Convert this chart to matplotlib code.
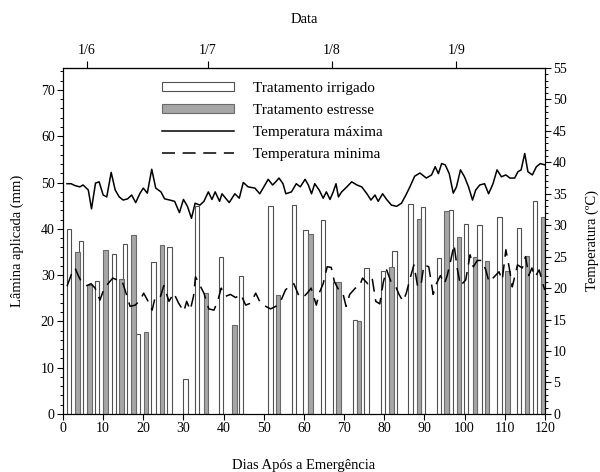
import matplotlib
matplotlib.use("Agg")
import matplotlib.pyplot as plt
from matplotlib.patches import Patch
from matplotlib.lines import Line2D
from matplotlib.ticker import MultipleLocator

plt.rcParams['font.family'] = ['Liberation Serif', 'DejaVu Serif']

# --- Data -------------------------------------------------------------
irrig_days = [1.5, 4.5, 8.5, 12.7, 15.5, 18.7, 22.5, 26.5, 30.5, 33.4, 39.3, 44.4,
              51.7, 57.6, 60.4, 64.7, 67.7, 72.7, 75.6, 79.7, 82.6, 86.6, 89.7,
              93.7, 96.6, 100.4, 103.7, 108.7, 113.6, 117.6]
irrig_mm = [40, 37.3, 28.7, 34.5, 36.7, 17.3, 32.8, 36, 7.6, 45, 34, 29.9,
            45, 45.2, 39.7, 41.8, 28.6, 20.3, 31.5, 30.8, 35.1, 45.3, 44.7,
            33.7, 44, 41.1, 40.9, 42.6, 40.1, 46.1]

stress_days = [3.6, 6.6, 10.6, 14.6, 17.6, 20.7, 24.6, 35.6, 42.7, 53.6, 61.6,
               68.6, 73.7, 81.8, 88.6, 95.5, 98.7, 102.6, 105.6, 110.7, 115.5, 119.6]
stress_mm = [35, 27.8, 35.5, 29.2, 38.7, 17.8, 36.5, 26.1, 19.3, 25.6, 38.9,
             28.6, 20.1, 31.8, 42.2, 43.9, 38.2, 33.9, 33.1, 30.8, 34.2, 42.6]

tmax_days = [1, 2, 3, 4.2, 5, 6.3, 7.1, 8.1, 9, 10, 10.9, 12, 13, 14, 15, 16.1, 17.1,
             18.1, 19.2, 20, 21, 22.1, 23.1, 24.4, 25.3, 26.6, 27.8, 29, 30, 31, 32,
             32.9, 34.1, 35.1, 36.2, 37.1, 37.9, 39, 39.6, 41.4, 42.8, 43.9, 44.9,
             46.1, 47.8, 49, 50.3, 51.1, 52.2, 53, 53.8, 54.8, 55.5, 56.9, 58.1,
             59.1, 60.3, 61.1, 61.9, 62.7, 63.8, 64.8, 65.6, 66.5, 67.3, 68, 68.6,
             69.4, 70.7, 71.9, 73.2, 74.4, 75.7, 76.7, 77.7, 78.5, 79.6, 80.6, 81.8,
             83.1, 84.3, 85.4, 86.4, 87.6, 88.9, 90.5, 91.8, 92.7, 93.5, 94.3, 95.2,
             96.2, 97.2, 98, 99, 100, 101, 102, 102.8, 103.8, 105, 106, 107.1, 108.1,
             109.2, 110.3, 111.3, 112.5, 113.3, 114.1, 115, 115.8, 116.9, 117.9,
             118.9, 120]
tmax_c = [36.6, 36.6, 36.3, 36.1, 36.4, 35.6, 32.6, 36.7, 36.9, 34.8, 34.5, 38.4,
          35.6, 34.5, 34, 34.2, 34.8, 33.6, 35.1, 35.9, 35.1, 38.9, 35.9, 35.3,
          34.2, 34, 33.8, 32, 34.1, 33, 31.1, 33.5, 33.2, 33.8, 35.3, 34.1, 35.3,
          33.8, 35, 33.6, 35, 34.3, 36.8, 36.1, 35.9, 35, 36.4, 37.3, 36.4, 36.9,
          37.5, 36.6, 35, 35.3, 36.6, 36.1, 37.3, 36.4, 35, 36.6, 35.6, 34.3, 35.3,
          34.1, 35.3, 36.6, 34.5, 35.3, 36.1, 36.9, 36.4, 36.1, 35, 34, 34.8, 33.8,
          35, 34.1, 33.2, 33, 33.5, 34.8, 36.1, 37.8, 38.3, 37.5, 38, 39.3, 38.2,
          39.8, 39.6, 38.2, 35.1, 36.1, 38.8, 37.7, 36.1, 34, 35.6, 36.4, 36.6, 35,
          36.6, 38.8, 37.7, 38, 37.5, 37.5, 38.5, 38.8, 41.4, 38.5, 38, 39.3, 39.8,
          39.6]

tmin_days = [1, 2.2, 3, 3.8, 4.6, 5.9, 7, 8, 9.2, 10.1, 11.2, 12.4, 13.5, 14.7, 15.7,
             16.7, 18, 19.2, 20.1, 21.2, 22.2, 23, 24.3, 25.1, 26.4, 27.6, 28.8, 30.1,
             30.8, 31.7, 32.5, 33, 33.9, 35.1, 36.3, 37.6, 38.5, 39.4, 40.5, 41.7, 43,
             44.3, 45.5, 46.7, 48, 49.2, 50.5, 51.7, 53, 54.2, 55.4, 56.5, 57.5, 58.8,
             59.8, 60.8, 61.8, 63.1, 63.8, 64.8, 65.8, 66.8, 67.6, 68.7, 69.7, 70.5,
             71.4, 72.8, 73.8, 74.6, 75.9, 77, 77.9, 78.9, 79.8, 80.6, 81.7, 82.9,
             83.7, 84.7, 85.5, 86.6, 87.4, 88.3, 89.1, 89.9, 91.1, 92.2, 93, 94, 95,
             95.7, 96.5, 97.4, 98.2, 99, 100.3, 101.4, 102.2, 103.2, 104.3, 105.3,
             106.1, 107.4, 108.6, 109.4, 110.3, 111.1, 111.9, 113.2, 114.4, 115.2,
             116, 116.8, 117.6, 118.6, 119.5, 120]
tmin_c = [20.3, 22.4, 23.2, 22, 21, 20.4, 20.7, 20, 18.1, 19.7, 20.7, 21.6, 21.3,
          21.2, 19.2, 17.1, 17.3, 18.1, 19.2, 17.9, 16.5, 18.7, 18.7, 20.4, 17.9,
          19.2, 17.6, 16.3, 17.9, 16.5, 18.7, 21.8, 20.7, 19.2, 16.7, 16.5, 17.9, 20,
          18.7, 19, 18.5, 19, 17.3, 17.6, 19.2, 17.6, 17.1, 16.7, 17.1, 17.9, 19.7,
          20.4, 20.7, 18.7, 18.5, 19.2, 20, 17.3, 19.2, 20.7, 23.4, 23.3, 21, 19.7,
          19.2, 17.1, 19, 20, 20.2, 21.6, 20.7, 21.6, 17.9, 17.5, 21, 22.9, 21, 20.2,
          19, 17.9, 19.2, 21.9, 23.7, 20.4, 20.2, 23.7, 23.4, 19, 20.7, 22, 20.7, 22,
          24.2, 26.9, 23.1, 20.4, 21.3, 25.3, 23.4, 24.4, 24.4, 22.9, 21, 21.8, 22.6,
          21.3, 26.1, 23.4, 20.2, 23.7, 23.2, 25, 22, 23.2, 21.8, 22.9, 20.7, 19.7]

date_days = [6, 36, 67, 98]
date_labels = ['1/6', '1/7', '1/8', '1/9']

# --- Figure -----------------------------------------------------------
fig = plt.figure(figsize=(6.0, 4.72), dpi=100)
ax = fig.add_axes([0.105, 0.123, 0.803, 0.733])

edge = '#505050'
ax.bar(irrig_days, irrig_mm, width=1.1, facecolor='white', edgecolor=edge,
       linewidth=0.8, zorder=2)
ax.bar(stress_days, stress_mm, width=1.1, facecolor='#a6a6a6', edgecolor='#6a6a6a',
       linewidth=0.8, zorder=2)

ax.set_xlim(0, 120)
ax.set_ylim(0, 74.75)
ax.xaxis.set_major_locator(MultipleLocator(10))
ax.yaxis.set_major_locator(MultipleLocator(10))
ax.yaxis.set_minor_locator(MultipleLocator(2))
ax.tick_params(axis='both', which='major', direction='out', length=4, width=0.8,
               labelsize=10, pad=2)
ax.tick_params(axis='y', which='minor', direction='out', length=2.5, width=0.7)
ax.set_xlabel('Dias Após a Emergência', fontsize=10.5, labelpad=17)
ax.set_ylabel('Lâmina aplicada (mm)', fontsize=10.5, labelpad=12)

ax2 = ax.twinx()
ax2.plot(tmax_days, tmax_c, color='black', linewidth=1.1, zorder=3)
ax2.plot(tmin_days, tmin_c, color='black', linewidth=1.1, dashes=(8.5, 5), zorder=3)
ax2.set_ylim(0, 55)
ax2.yaxis.set_major_locator(MultipleLocator(5))
ax2.yaxis.set_minor_locator(MultipleLocator(1))
ax2.tick_params(axis='y', which='major', direction='out', length=4, width=0.8,
                labelsize=10, pad=2)
ax2.tick_params(axis='y', which='minor', direction='out', length=2.5, width=0.7)
ax2.set_ylabel('Temperatura (ºC)', fontsize=10.5, labelpad=13)

top = ax.secondary_xaxis('top')
top.set_xticks(date_days)
top.set_xticklabels(date_labels)
top.tick_params(axis='x', direction='out', length=5, width=0.8, labelsize=10, pad=3)
top.set_xlabel('Data', fontsize=10.5, labelpad=15)

for a in (ax, ax2):
    for s in a.spines.values():
        s.set_linewidth(0.8)

handles = [Patch(facecolor='white', edgecolor=edge, linewidth=0.8),
           Patch(facecolor='#a6a6a6', edgecolor='#6a6a6a', linewidth=0.8),
           Line2D([], [], color='black', linewidth=1.1),
           Line2D([], [], color='black', linewidth=1.1, dashes=(8.5, 5))]
labels = ['Tratamento irrigado', 'Tratamento estresse', 'Temperatura máxima',
          'Temperatura minima']
leg = ax2.legend(handles, labels, loc='upper left', bbox_to_anchor=(0.205, 0.96),
                 frameon=False, fontsize=11, handlelength=4.7, handleheight=0.55,
                 handletextpad=1.3, labelspacing=0.6, borderaxespad=0.0,
                 borderpad=0.0)

fig.savefig('out.png', dpi=100)
